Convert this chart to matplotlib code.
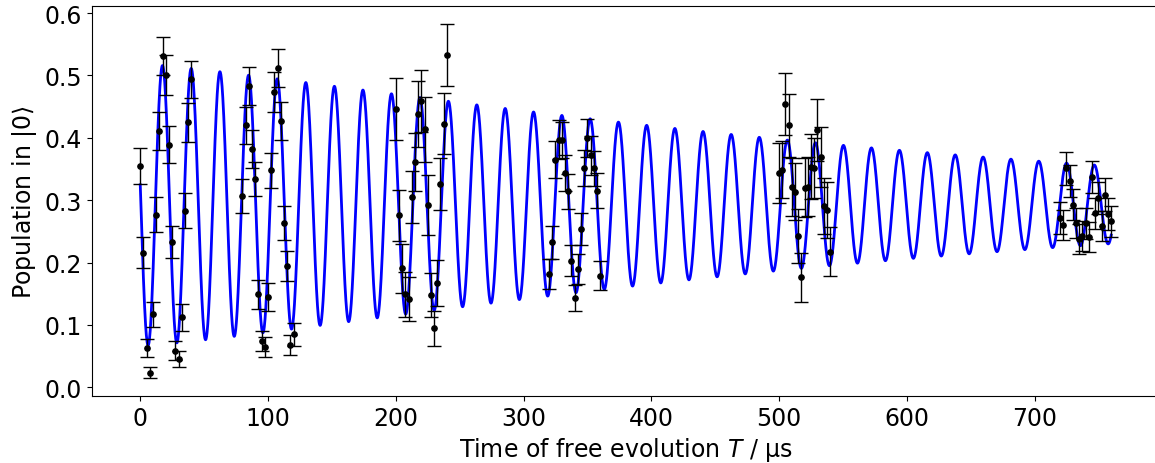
from matplotlib import pyplot as plt
import numpy as np

# measured populations, six blocks of 17 delays each (2.5 us steps)
t_block1 = [0, 2.5, 5, 7.5, 10, 12.5, 15, 17.5, 20, 22.5, 25, 27.5, 30, 32.5, 35, 37.5, 40]
p_block1 = [0.355, 0.216, 0.063, 0.0235, 0.117, 0.277, 0.411, 0.531, 0.501, 0.389, 0.233, 0.059, 0.046, 0.112, 0.283, 0.425, 0.494]
e_block1 = [0.029, 0.025, 0.015, 0.009, 0.020, 0.028, 0.030, 0.030, 0.032, 0.030, 0.025, 0.015, 0.013, 0.021, 0.028, 0.031, 0.030]

t_block2 = [80, 82.5, 85, 87.5, 90, 92.5, 95, 97.5, 100, 102.5, 105, 107.5, 110, 112.5, 115, 117.5, 120]
p_block2 = [0.307, 0.420, 0.483, 0.382, 0.334, 0.149, 0.074, 0.065, 0.145, 0.348, 0.474, 0.512, 0.427, 0.264, 0.194, 0.068, 0.085]
e_block2 = [0.027, 0.030, 0.031, 0.031, 0.028, 0.023, 0.016, 0.016, 0.022, 0.028, 0.032, 0.031, 0.030, 0.027, 0.024, 0.016, 0.018]

t_block3 = [200, 202.5, 205, 207.5, 210, 212.5, 215, 217.5, 220, 222.5, 225, 227.5, 230, 232.5, 235, 237.5, 240]
p_block3 = [0.446, 0.276, 0.191, 0.149, 0.142, 0.305, 0.361, 0.438, 0.459, 0.414, 0.293, 0.148, 0.095, 0.167, 0.326, 0.423, 0.533]
e_block3 = [0.050, 0.041, 0.039, 0.036, 0.035, 0.042, 0.047, 0.053, 0.050, 0.052, 0.048, 0.035, 0.028, 0.037, 0.042, 0.049, 0.050]

t_block4 = [320, 322.5, 325, 327.5, 330, 332.5, 335, 337.5, 340, 342.5, 345, 347.5, 350, 352.5, 355, 357.5, 360]
p_block4 = [0.182, 0.2325, 0.365, 0.397, 0.396, 0.344, 0.314, 0.203, 0.1435, 0.190, 0.254, 0.352, 0.3995, 0.372, 0.3515, 0.315, 0.179]
e_block4 = [0.024, 0.026, 0.030, 0.031, 0.029, 0.029, 0.028, 0.025, 0.021, 0.024, 0.026, 0.029, 0.030, 0.031, 0.028, 0.028, 0.023]

t_block5 = [500, 502.5, 505, 507.5, 510, 512.5, 515, 517.5, 520, 522.5, 525, 527.5, 530, 532.5, 535, 537.5, 540]
p_block5 = [0.3435, 0.349, 0.454, 0.420, 0.321, 0.3136, 0.2427, 0.1765, 0.320, 0.322, 0.3536, 0.3515, 0.4128, 0.370, 0.291, 0.2837, 0.2176]
e_block5 = [0.048, 0.046, 0.050, 0.050, 0.047, 0.046, 0.043, 0.039, 0.047, 0.047, 0.052, 0.048, 0.050, 0.048, 0.045, 0.045, 0.039]

t_block6 = [720, 722.5, 725, 727.5, 730, 732.5, 735, 737.5, 740, 742.5, 745, 747.5, 750, 752.5, 755, 757.5, 760]
p_block6 = [0.2715, 0.261, 0.351, 0.331, 0.293, 0.264, 0.2384, 0.2427, 0.263, 0.241, 0.337, 0.279, 0.304, 0.2587, 0.309, 0.278, 0.266]
e_block6 = [0.025, 0.024, 0.027, 0.026, 0.025, 0.024, 0.024, 0.024, 0.025, 0.024, 0.026, 0.025, 0.026, 0.024, 0.026, 0.025, 0.025]

# fit parameters (damped, slightly chirped Ramsey fringe)
fit_offset = 0.2925
fit_amp = 0.226
fit_tau = 620.0  # us
fit_stretch = 1.25
fit_freq = 0.044433  # 1/us
fit_chirp = 1.11e-6  # 1/us^2
fit_t0 = 17.4  # us, first maximum

t_data = np.concatenate([t_block1, t_block2, t_block3, t_block4, t_block5, t_block6])
p_data = np.concatenate([p_block1, p_block2, p_block3, p_block4, p_block5, p_block6])
e_data = np.concatenate([e_block1, e_block2, e_block3, e_block4, e_block5, e_block6])

t_fit = np.linspace(0, t_data.max(), 4000)
phase = fit_freq * (t_fit - fit_t0) + fit_chirp * (t_fit - fit_t0) ** 2
p_fit = fit_offset + fit_amp * np.exp(-((t_fit / fit_tau) ** fit_stretch)) * np.cos(2 * np.pi * phase)

fig = plt.figure(figsize=(11.55, 4.64), dpi=100)
ax = fig.add_axes([0.0794, 0.1444, 0.9247, 0.8405])

ax.plot(t_fit, p_fit, color="blue", lw=2.0, zorder=1)
ax.errorbar(
    t_data, p_data, yerr=e_data,
    fmt="o", color="black", ms=3.8,
    ecolor="black", elinewidth=1.0, capsize=5, capthick=1.0,
    zorder=2,
)

ax.set_xlabel(r"Time of free evolution $T$ / µs", fontsize=17)
ax.set_ylabel(r"Population in $|0\rangle$", fontsize=17)
ax.tick_params(labelsize=17)
ax.set_xticks([0, 100, 200, 300, 400, 500, 600, 700])
ax.set_yticks([0.0, 0.1, 0.2, 0.3, 0.4, 0.5, 0.6])

fig.savefig("out.png", dpi=100)
